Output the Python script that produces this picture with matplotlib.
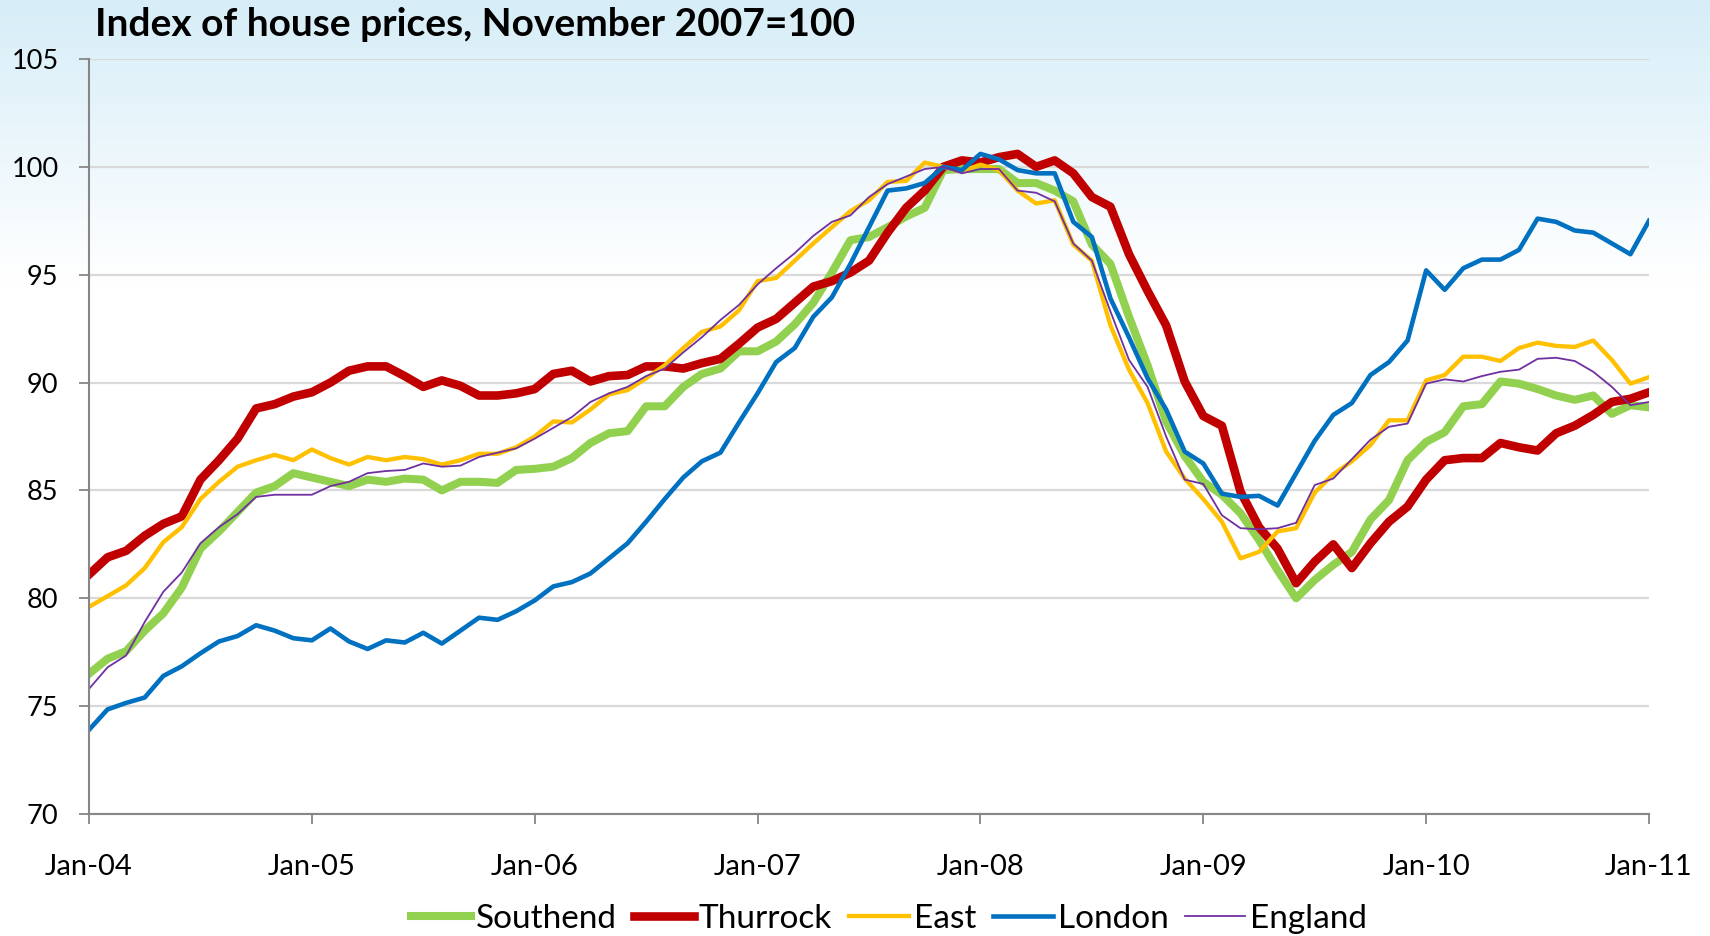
import numpy as np
import matplotlib
matplotlib.use('Agg')
import matplotlib.pyplot as plt

plt.rcParams['font.family'] = ['Lato', 'DejaVu Sans']

title = 'Index of house prices, November 2007=100'
tick_labels = ['Jan-04', 'Jan-05', 'Jan-06', 'Jan-07', 'Jan-08', 'Jan-09', 'Jan-10', 'Jan-11']
y_ticks = [70, 75, 80, 85, 90, 95, 100, 105]

# monthly index values, Jan-04 .. Jan-11
southend = [76.5, 77.2, 77.55, 78.5, 79.3, 80.5, 82.3, 83.1, 84.0, 84.9, 85.2, 85.8,
            85.6, 85.4, 85.2, 85.5, 85.4, 85.55, 85.5, 85.0, 85.4, 85.4, 85.35, 85.95,
            86.0, 86.1, 86.5, 87.2, 87.65, 87.75, 88.9, 88.9, 89.8, 90.4, 90.65, 91.45,
            91.45, 91.9, 92.7, 93.7, 95.1, 96.6, 96.75, 97.2, 97.7, 98.1, 99.85, 99.9,
            99.9, 99.9, 99.25, 99.25, 98.9, 98.4, 96.4, 95.5, 93.05, 90.8, 88.2, 86.6,
            85.4, 84.8, 83.95, 82.7, 81.3, 80.0, 80.85, 81.55, 82.15, 83.65, 84.55, 86.4,
            87.25, 87.7, 88.9, 89.0, 90.05, 89.95, 89.7, 89.4, 89.2, 89.4, 88.55, 88.95,
            88.85]
thurrock = [81.1, 81.9, 82.2, 82.9, 83.45, 83.8, 85.5, 86.4, 87.4, 88.8, 89.0, 89.35,
            89.55, 90.0, 90.55, 90.75, 90.75, 90.3, 89.8, 90.1, 89.85, 89.4, 89.4, 89.5,
            89.7, 90.4, 90.55, 90.05, 90.3, 90.35, 90.75, 90.75, 90.65, 90.9, 91.1, 91.8,
            92.55, 92.95, 93.7, 94.45, 94.7, 95.1, 95.65, 96.95, 98.1, 98.9, 100.0, 100.3,
            100.2, 100.45, 100.6, 100.0, 100.3, 99.7, 98.6, 98.15, 95.95, 94.25, 92.65, 90.05,
            88.45, 88.0, 84.95, 83.3, 82.3, 80.7, 81.7, 82.5, 81.4, 82.55, 83.55, 84.25,
            85.5, 86.4, 86.5, 86.5, 87.2, 87.0, 86.85, 87.65, 88.0, 88.5, 89.1, 89.25,
            89.55]
east = [79.6, 80.1, 80.6, 81.4, 82.6, 83.3, 84.6, 85.4, 86.1, 86.4, 86.65, 86.4,
        86.9, 86.5, 86.2, 86.55, 86.4, 86.55, 86.45, 86.2, 86.4, 86.7, 86.7, 87.0,
        87.5, 88.2, 88.15, 88.75, 89.45, 89.65, 90.2, 90.8, 91.6, 92.35, 92.6, 93.35,
        94.7, 94.85, 95.65, 96.45, 97.2, 97.95, 98.45, 99.3, 99.35, 100.2, 100.0, 99.8,
        100.1, 99.85, 98.9, 98.3, 98.45, 96.4, 95.65, 92.65, 90.6, 89.05, 86.8, 85.55,
        84.6, 83.55, 81.85, 82.15, 83.1, 83.25, 84.9, 85.75, 86.35, 87.1, 88.25, 88.25,
        90.1, 90.35, 91.2, 91.2, 91.0, 91.6, 91.85, 91.7, 91.65, 91.95, 91.05, 89.95,
        90.25]
london = [73.9, 74.85, 75.15, 75.4, 76.4, 76.85, 77.45, 78.0, 78.25, 78.75, 78.5, 78.15,
          78.05, 78.6, 78.0, 77.65, 78.05, 77.95, 78.4, 77.9, 78.5, 79.1, 79.0, 79.4,
          79.9, 80.55, 80.75, 81.15, 81.85, 82.55, 83.55, 84.6, 85.6, 86.35, 86.75, 88.15,
          89.5, 90.95, 91.6, 93.05, 93.95, 95.5, 97.2, 98.9, 99.0, 99.25, 100.0, 99.85,
          100.6, 100.35, 99.85, 99.7, 99.7, 97.45, 96.75, 93.9, 92.1, 90.2, 88.75, 86.8,
          86.25, 84.85, 84.7, 84.75, 84.3, 85.8, 87.3, 88.5, 89.05, 90.35, 90.95, 91.95,
          95.2, 94.3, 95.3, 95.7, 95.7, 96.15, 97.6, 97.45, 97.05, 96.95, 96.45, 95.95,
          97.5]
england = [75.8, 76.8, 77.35, 78.9, 80.3, 81.2, 82.55, 83.3, 83.9, 84.7, 84.8, 84.8,
           84.8, 85.2, 85.4, 85.8, 85.9, 85.95, 86.25, 86.1, 86.15, 86.55, 86.75, 86.95,
           87.4, 87.9, 88.4, 89.1, 89.5, 89.8, 90.3, 90.65, 91.4, 92.1, 92.9, 93.6,
           94.55, 95.3, 96.0, 96.8, 97.45, 97.75, 98.6, 99.2, 99.55, 99.9, 100.0, 99.7,
           99.9, 99.9, 98.9, 98.8, 98.4, 96.45, 95.65, 93.3, 91.05, 89.8, 87.5, 85.5,
           85.3, 83.85, 83.25, 83.2, 83.25, 83.5, 85.25, 85.55, 86.45, 87.35, 87.95, 88.1,
           89.95, 90.15, 90.05, 90.3, 90.5, 90.6, 91.1, 91.15, 91.0, 90.5, 89.8, 88.95,
           89.1]

names = ['Southend', 'Thurrock', 'East', 'London', 'England']
colors = ['#92d050', '#c00000', '#ffc000', '#0070c0', '#7030a0']
widths = [5.8, 6.2, 3.1, 3.3, 1.3]

fig = plt.figure(figsize=(17.1, 9.36), dpi=100)

# pale blue wash at the top of the slide
bg = fig.add_axes([0, 0, 1, 1])
t = np.linspace(0, 1, 400)[:, None]
w = np.clip(1 - t / 0.3, 0, 1)
top = np.array([0.84, 0.93, 0.97])
grad = 1 - w[..., None] * (1 - top)[None, None, :]
bg.imshow(grad, extent=[0, 1, 0, 1], aspect='auto', zorder=0)
bg.axis('off')

ax = fig.add_axes([89 / 1710, 1 - 814 / 936, 1560 / 1710, 755 / 936])
ax.patch.set_alpha(0)

x = np.arange(len(southend))
for name, vals, c, lw in zip(names, [southend, thurrock, east, london, england], colors, widths):
    ax.plot(x, vals, color=c, lw=lw, label=name, solid_joinstyle='round')

ax.set_xlim(0, len(southend) - 1)
ax.set_ylim(70, 105)
ax.set_yticks(y_ticks)
ax.set_xticks(np.arange(0, len(southend), 12))
ax.set_xticklabels(tick_labels)

ax.yaxis.grid(True, color='#d9d9d9', lw=1.6)
ax.set_axisbelow(True)
for s in ['top', 'right']:
    ax.spines[s].set_visible(False)
for s in ['left', 'bottom']:
    ax.spines[s].set_color('#868686')
    ax.spines[s].set_linewidth(1.5)
ax.tick_params(axis='both', direction='out', length=7, width=1.3, color='#868686',
               labelcolor='black')
ax.tick_params(axis='x', pad=22, labelsize=21)
ax.tick_params(axis='y', pad=15, labelsize=19.5)

fig.text(95 / 1710, 1 - 24 / 936, title, fontsize=28, fontweight='bold', va='center', ha='left')

fig.legend(loc='center', bbox_to_anchor=(889 / 1710, 1 - 919 / 936), ncol=5, frameon=False,
           fontsize=24, handlelength=1.8, handletextpad=0.15, columnspacing=0.5)

fig.savefig('out.png', dpi=100)
